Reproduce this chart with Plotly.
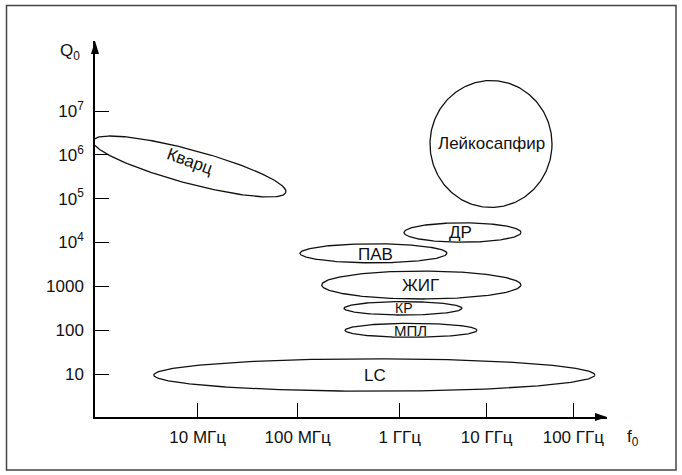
import numpy as np
import plotly.graph_objects as go

# ---------------- data ----------------
# x axis: decade position of f0, y axis: log10(Q0)
x_tick_pos = [7.0, 8.0, 9.02, 9.89, 10.756]
x_tick_labels = ["10 МГц", "100 МГц", "1 ГГц", "10 ГГц", "100 ГГц"]
y_tick_pos = [1, 2, 3, 4, 5, 6, 7]
y_tick_labels = ["10", "100", "1000", "10<sup>4</sup>", "10<sup>5</sup>",
                 "10<sup>6</sup>", "10<sup>7</sup>"]

names = ["Кварц", "Лейкосапфир", "ДР", "ПАВ", "ЖИГ", "КР", "МПЛ", "LC"]
# ellipse centres (decade of f0, log10 Q0)
center_f = [6.918, 9.933, 9.648, 8.758, 9.236, 9.053, 9.133, 8.766]
center_q = [5.734, 6.247, 4.228, 3.754, 3.031, 2.499, 1.998, 0.978]
# half-axis vectors (major: df, dq ; minor: df, dq)
major_df = [0.964, 0.610, 0.585, 0.735, 0.996, 0.590, 0.660, 2.205]
major_dq = [-0.589, 0.0, 0.0, 0.0, 0.0, 0.0, 0.0, 0.0]
minor_df = [0.0435, 0.0, 0.0, 0.0, 0.0, 0.0, 0.0, 0.0]
minor_dq = [0.370, 1.448, 0.221, 0.217, 0.319, 0.153, 0.160, 0.370]
# label anchor points
label_f = [6.923, 9.933, 9.625, 8.773, 9.226, 9.063, 9.128, 8.773]
label_q = [5.843, 6.260, 4.233, 3.730, 3.031, 2.499, 1.998, 0.978]
label_size = [17, 17, 17, 17, 17, 14, 15, 17]
label_angle = [20, 0, 0, 0, 0, 0, 0, 0]

# ---------------- layout geometry ----------------
W, H = 682, 475
L, R, T, B = 95, 607, 41, 417          # plot area in pixels
x_range = [5.973, 5.973 + (R - L) / 100.0]
y_range = [0.02, 0.02 + (B - T) / 43.84]

def px(x):
    return (x - L) / (R - L)

def py(y):
    return (B - y) / (B - T)

FONT = "Liberation Sans, Arial, Helvetica, sans-serif"
INK = "#111111"

fig = go.Figure()

t = np.linspace(0, 2 * np.pi, 241)
for i, n in enumerate(names):
    xs = center_f[i] + major_df[i] * np.cos(t) + minor_df[i] * np.sin(t)
    ys = center_q[i] + major_dq[i] * np.cos(t) + minor_dq[i] * np.sin(t)
    fig.add_trace(go.Scatter(x=xs, y=ys, mode="lines", name=n,
                             line=dict(color=INK, width=1.3),
                             hoverinfo="name", showlegend=False))
    fig.add_annotation(x=label_f[i], y=label_q[i], xref="x", yref="y",
                       text=n, showarrow=False, textangle=label_angle[i],
                       font=dict(size=label_size[i], color=INK, family=FONT),
                       xanchor="center", yanchor="middle")

axis_common = dict(showgrid=False, zeroline=False, showline=True,
                   linecolor="black", linewidth=1.5, ticks="inside",
                   ticklen=14, tickwidth=1.2, tickcolor="black",
                   tickfont=dict(size=17, color=INK, family=FONT),
                   tickmode="array", fixedrange=True)

fig.update_xaxes(range=x_range, tickvals=x_tick_pos, ticktext=x_tick_labels,
                 ticklabelstandoff=4, **axis_common)
fig.update_yaxes(range=y_range, tickvals=y_tick_pos, ticktext=y_tick_labels,
                 ticklabelstandoff=6, **axis_common)

# arrow heads
fig.add_shape(type="path", xref="paper", yref="paper", xsizemode="pixel",
              ysizemode="pixel", xanchor=1, yanchor=0,
              path="M 0,0 L -12,4 L -12,-4 Z", fillcolor="black",
              line=dict(width=0))
fig.add_shape(type="path", xref="paper", yref="paper", xsizemode="pixel",
              ysizemode="pixel", xanchor=0, yanchor=1,
              path="M 0,0 L -4,-13 L 4,-13 Z", fillcolor="black",
              line=dict(width=0))

# outer frame
fig.add_shape(type="rect", xref="paper", yref="paper",
              x0=px(6.5), x1=px(676), y0=py(470), y1=py(5.5),
              line=dict(color="#444444", width=1.5), fillcolor="rgba(0,0,0,0)")

# axis names
fig.add_annotation(xref="paper", yref="paper", x=px(70), y=py(52),
                   text="Q<sub>0</sub>", showarrow=False,
                   xanchor="center", yanchor="middle",
                   font=dict(size=17, color=INK, family=FONT))
fig.add_annotation(xref="paper", yref="paper", x=px(633), y=py(438),
                   text="f<sub>0</sub>", showarrow=False,
                   xanchor="center", yanchor="middle",
                   font=dict(size=17, color=INK, family=FONT))

fig.update_layout(width=W, height=H,
                  margin=dict(l=L, r=W - R, t=T, b=H - B),
                  paper_bgcolor="white", plot_bgcolor="white",
                  showlegend=False, font=dict(family=FONT, color=INK))

fig.write_html("out.html", config={"displayModeBar": False},
               post_script="document.body.style.margin='0px';")
